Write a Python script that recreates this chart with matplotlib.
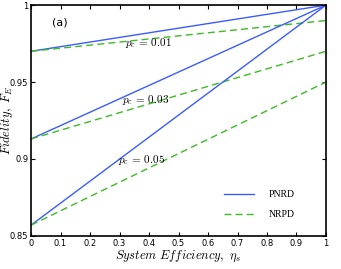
import matplotlib
matplotlib.use("Agg")
import matplotlib.pyplot as plt

eta = [0.0, 0.25, 0.5, 0.75, 1.0]
pnrd_001 = [0.970, 0.9775, 0.985, 0.9925, 1.000]
pnrd_003 = [0.913, 0.93475, 0.9565, 0.97825, 1.000]
pnrd_005 = [0.857, 0.89275, 0.9285, 0.96425, 1.000]
nrpd_001 = [0.970, 0.975, 0.980, 0.985, 0.990]
nrpd_003 = [0.913, 0.92725, 0.9415, 0.95575, 0.970]
nrpd_005 = [0.857, 0.88025, 0.9035, 0.92675, 0.950]
pc_labels = ["0.01", "0.03", "0.05"]
xticks = [0, 0.1, 0.2, 0.3, 0.4, 0.5, 0.6, 0.7, 0.8, 0.9, 1]
xticklabels = ["0", "0.1", "0.2", "0.3", "0.4", "0.5", "0.6", "0.7", "0.8", "0.9", "1"]
yticks = [0.85, 0.9, 0.95, 1.0]
yticklabels = ["0.85", "0.9", "0.95", "1"]

plt.rcParams['mathtext.fontset'] = 'cm'
blue = '#3a5cff'
green = '#3cbb22'

fig = plt.figure(figsize=(3.41, 2.69), dpi=100)
ax = fig.add_axes([0.091, 0.123, 0.865, 0.858])

for i, (p, n) in enumerate([(pnrd_001, nrpd_001), (pnrd_003, nrpd_003), (pnrd_005, nrpd_005)]):
    ax.plot(eta, p, color=blue, lw=1.0, label='PNRD' if i == 0 else None)
    ax.plot(eta, n, color=green, lw=1.0, ls=(0, (5, 3)), label='NRPD' if i == 0 else None)

label_pos = [(0.32, 0.9755), (0.31, 0.9385), (0.295, 0.8995)]
for lab, (x, y) in zip(pc_labels, label_pos):
    ax.text(x, y, r'$p_c\,=\,%s$' % lab, fontsize=8, ha='left', va='center')

ax.text(0.071, 0.989, '(a)', fontsize=8, ha='left', va='center', family='DejaVu Sans')

ax.set_xlim(0, 1)
ax.set_ylim(0.85, 1.0)
ax.set_xticks(xticks)
ax.set_xticklabels(xticklabels)
ax.set_yticks(yticks)
ax.set_yticklabels(yticklabels)
ax.tick_params(direction='in', top=True, right=True, labelsize=6, length=3, width=0.8, pad=2)
for s in ax.spines.values():
    s.set_linewidth(1.2)

ax.set_xlabel(r'$System\ Efficiency,\ \eta_s$', fontsize=9, labelpad=1)
ax.set_ylabel(r'$Fidelity,\ F_E$', fontsize=9)
ax.yaxis.set_label_coords(-0.054, 0.5)

leg = ax.legend(loc='lower right', frameon=False, prop={'family': 'Liberation Serif', 'size': 7},
                handlelength=3.1, labelspacing=1.1, borderaxespad=0.0, handletextpad=1.5,
                bbox_to_anchor=(0.908, 0.056))

fig.savefig('out.png', dpi=100)
